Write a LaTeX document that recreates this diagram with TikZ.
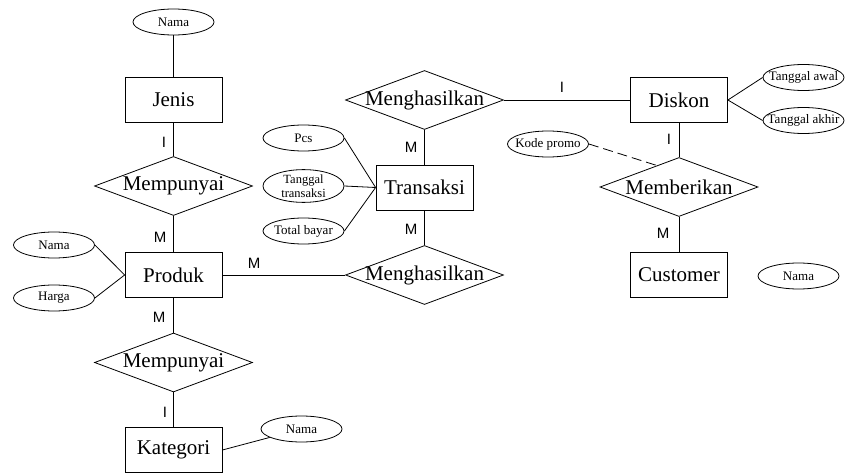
\documentclass[tikz,border=0pt]{standalone}
\usepackage{fontspec}
\setmainfont{Liberation Serif}
\newfontfamily\lblfont{Liberation Sans}
\usetikzlibrary{shapes.geometric,calc}

\newcommand{\tx}[1]{\makebox[0pt]{#1}}

\begin{document}
\begin{tikzpicture}[x=1pt,y=-1pt,line width=0.8pt,
			entity node/.style={rectangle,draw,minimum width=97pt,minimum height=45pt,inner sep=0pt,font=\fontsize{21}{23}\selectfont},
			relation node/.style={diamond,draw,minimum width=158pt,minimum height=59pt,inner sep=0pt,font=\fontsize{21}{23}\selectfont},
			attr node/.style={ellipse,draw,minimum width=81pt,minimum height=26pt,inner sep=0pt,font=\fontsize{13}{13}\selectfont},
			card node/.style={inner sep=0pt,font=\lblfont\fontsize{15}{15}\selectfont}
			]
			
			\useasboundingbox (0,0) rectangle (845,473);
			
			% kolom kiri
			\node[attr node] (namaJ) at (173.5,22) {\tx{Nama}};
			\node[entity node] (jenis) at (173.5,99.5) {Jenis};
			\node[relation node] (mempunyai1) at (173.5,186) {\tx{Mempunyai}};
			\node[entity node] (produk) at (173.5,275) {Produk};
			\node[relation node] (mempunyai2) at (173.5,362.5) {\tx{Mempunyai}};
			\node[entity node] (kategori) at (173.5,450) {Kategori};
			\node[attr node] (namaP) at (54,245) {\tx{Nama}};
			\node[attr node] (harga) at (54,298) {\tx{Harga}};
			\node[attr node] (namaK) at (301.5,429) {\tx{Nama}};
			
			% kolom tengah
			\node[relation node] (menghasilkan1) at (424.5,100) {\tx{Menghasilkan}};
			\node[entity node] (transaksi) at (424.5,187.5) {Transaksi};
			\node[relation node] (menghasilkan2) at (424.5,275) {\tx{Menghasilkan}};
			\node[attr node] (pcs) at (303.5,138) {\tx{Pcs}};
			\node[attr node,font=\fontsize{12.5}{10}\selectfont] (tgltrans) at (303.5,186) {\tx{\shortstack{Tanggal\\transaksi}}};
			\node[attr node] (total) at (303.5,231) {\tx{Total bayar}};
			
			% kolom kanan
			\node[entity node] (diskon) at (679,100) {Diskon};
			\node[relation node] (memberikan) at (679,187) {\tx{Memberikan}};
			\node[entity node] (customer) at (679,275) {Customer};
			\node[attr node] (awal) at (803.5,77.5) {\tx{Tanggal awal}};
			\node[attr node] (akhir) at (803.5,120.5) {\tx{Tanggal akhir}};
			\node[attr node] (kode) at (548,144) {\tx{Kode promo}};
			\node[attr node] (namaC) at (798.5,276) {\tx{Nama}};
			
			\draw (namaJ) -- (jenis);
			\draw (jenis) -- (mempunyai1);
			\draw (mempunyai1) -- (produk);
			\draw (produk) -- (mempunyai2);
			\draw (mempunyai2) -- (kategori);
			\draw (namaP.east) -- (produk.west);
			\draw (harga.east) -- (produk.west);
			\draw (kategori.east) -- (namaK);
			\draw (produk) -- (menghasilkan2);
			
			\draw (menghasilkan1) -- (transaksi);
			\draw (transaksi) -- (menghasilkan2);
			\draw (pcs.east) -- (transaksi.west);
			\draw (tgltrans.east) -- (transaksi.west);
			\draw (total.east) -- (transaksi.west);
			
			\draw (menghasilkan1) -- (diskon);
			\draw (diskon) -- (memberikan);
			\draw (memberikan) -- (customer);
			\draw (diskon.east) -- (awal.west);
			\draw (diskon.east) -- (akhir.west);
			\draw[dash pattern=on 10pt off 5pt] (kode.east) -- ($(memberikan.north)!0.28!(memberikan.west)$);
			
			\node[card node] (k1) at (164,142) {I};
			\node[card node] (k2) at (160,237) {M};
			\node[card node] (k3) at (254,263) {M};
			\node[card node] (k4) at (159,317) {M};
			\node[card node] (k5) at (165,412) {I};
			\node[card node] (k6) at (411,147) {M};
			\node[card node] (k7) at (411,229) {M};
			\node[card node] (k8) at (562,87) {I};
			\node[card node] (k9) at (669,139) {I};
			\node[card node] (k10) at (663,233) {M};
\end{tikzpicture}
\end{document}
